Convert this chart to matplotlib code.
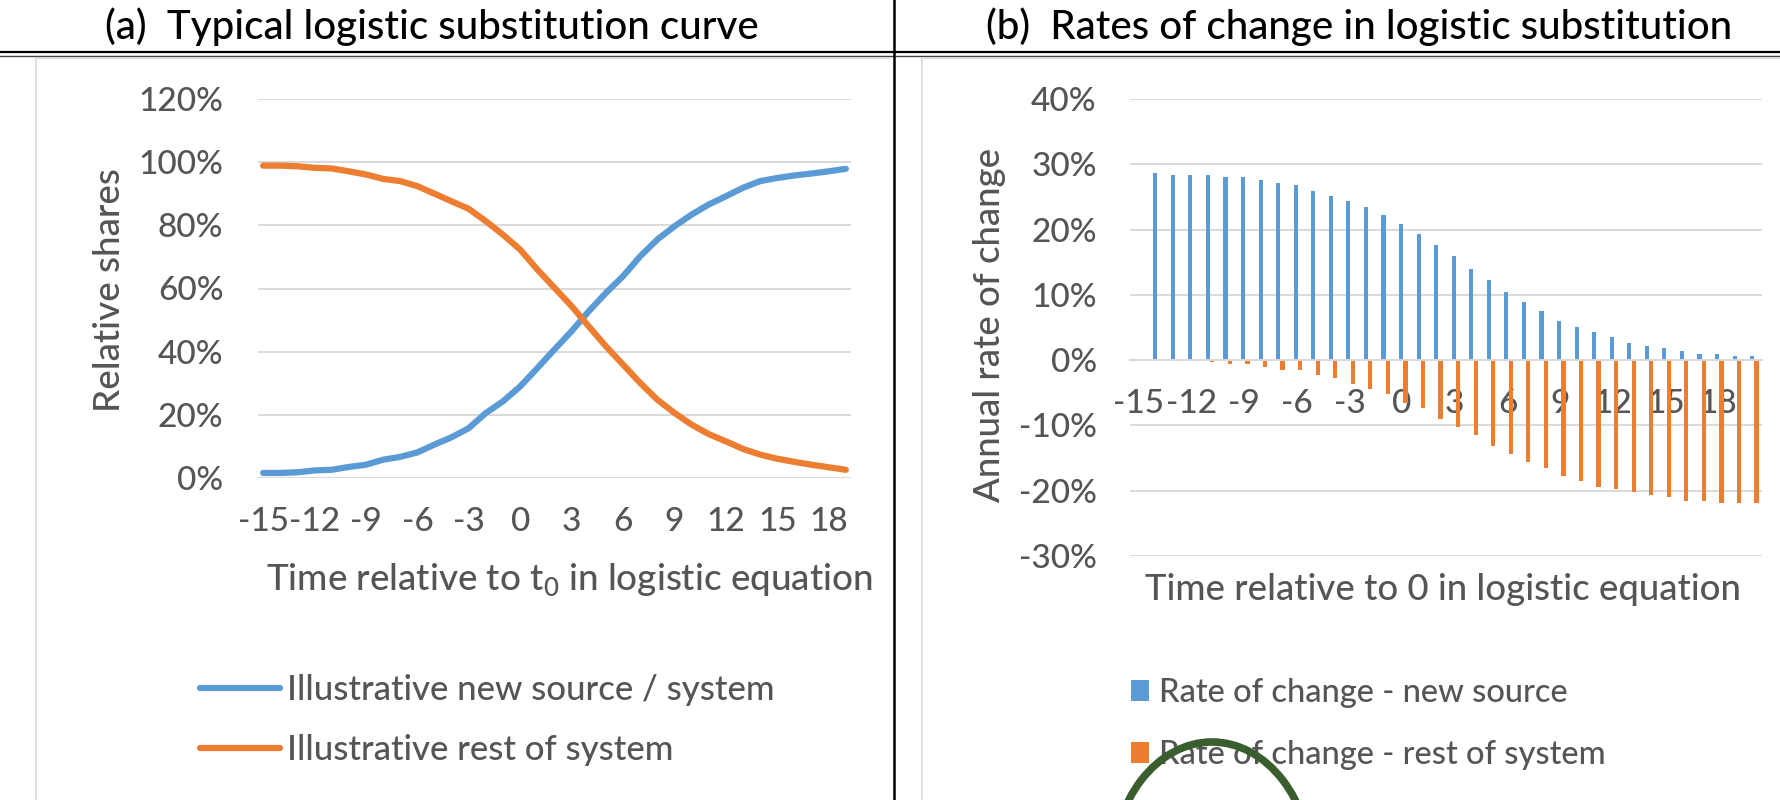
import numpy as np
import matplotlib.pyplot as plt
from matplotlib.lines import Line2D
from matplotlib.patches import Ellipse

plt.rcParams['font.family'] = ['Lato', 'DejaVu Sans']
plt.rcParams['font.weight'] = 'medium'

# panel (a): relative shares, years relative to t0
years_a = list(range(-15, 20))
new_share = [1.6, 1.6, 1.8, 2.4, 2.6, 3.5, 4.2, 5.8, 6.7, 8.1,
             10.6, 12.9, 15.8, 20.6, 24.3, 29.0, 34.8, 40.7, 46.5, 52.8,
             58.6, 63.9, 70.2, 75.5, 79.7, 83.4, 86.6, 89.2, 91.9, 94.0,
             95.0, 95.8, 96.4, 97.1, 97.9]
rest_share = [98.9, 98.9, 98.7, 98.2, 98.0, 97.1, 96.1, 94.7, 94.0, 92.4,
              90.0, 87.6, 85.2, 81.3, 77.0, 72.3, 66.0, 60.2, 54.4, 48.0,
              41.7, 35.9, 30.1, 24.8, 20.6, 16.9, 13.9, 11.6, 9.2, 7.4,
              6.1, 5.1, 4.2, 3.4, 2.6]

# panel (b): annual rates of change (categories -15..20, no value for -15)
years_b = list(range(-14, 21))
rate_new = [28.7, 28.4, 28.4, 28.4, 28.1, 28.0, 27.6, 27.2, 26.8, 25.9,
            25.1, 24.3, 23.4, 22.2, 20.9, 19.3, 17.6, 15.9, 13.9, 12.2,
            10.5, 8.9, 7.6, 6.0, 5.1, 4.3, 3.5, 2.6, 2.2, 1.8,
            1.4, 1.0, 1.0, 0.6, 0.6]
rate_rest = [-0.1, -0.2, -0.2, -0.3, -0.6, -0.6, -1.0, -1.5, -1.5, -2.3,
             -2.8, -3.6, -4.4, -5.2, -6.5, -7.3, -9.0, -10.2, -11.5, -13.1,
             -14.4, -15.6, -16.5, -17.7, -18.5, -19.4, -19.8, -20.2, -20.6, -21.0,
             -21.5, -21.5, -21.9, -21.9, -21.9]

xticks = list(range(-15, 19, 3))
yticks_a = [0, 20, 40, 60, 80, 100, 120]
yticks_b = [-30, -20, -10, 0, 10, 20, 30, 40]

blue = '#5B9BD5'
orange = '#ED7D31'
txt = '#555555'
grid = '#D9D9D9'

W, H = 1781, 800
fig = plt.figure(figsize=(W / 100, H / 100), dpi=100)


def fx(px):
    return px / W


def fy(py):
    return 1 - py / H


def style(ax):
    for s in ax.spines.values():
        s.set_visible(False)
    ax.set_axisbelow(True)
    ax.yaxis.grid(True, color=grid, lw=1.4)
    ax.tick_params(length=0, labelsize=24, labelcolor=txt)
    ax.tick_params(axis='y', pad=25)
    ax.tick_params(axis='x', pad=21)


# (a)
ax1 = fig.add_axes([fx(258), fy(478), fx(851 - 258), (478 - 99) / H])
style(ax1)
ax1.plot(years_a, new_share, color=blue, lw=4.5, solid_capstyle='round',
         label='Illustrative new source / system')
ax1.plot(years_a, rest_share, color=orange, lw=4.5, solid_capstyle='round',
         label='Illustrative rest of system')
ax1.set_xlim(-15.3, 19.3)
ax1.set_ylim(0, 120)
ax1.set_xticks(xticks)
ax1.set_xticklabels([str(v) for v in xticks])
ax1.set_yticks(yticks_a)
ax1.set_yticklabels(['%d%%' % v for v in yticks_a])
ax1.legend(loc='center left', bbox_to_anchor=(fx(200), fy(720)),
           bbox_transform=fig.transFigure, frameon=False, fontsize=25,
           handlelength=2.3, handletextpad=0.2, labelspacing=0.82,
           borderpad=0, borderaxespad=0, labelcolor=txt)

# (b)
ax2 = fig.add_axes([fx(1130), fy(556), fx(632), (556 - 99) / H])
style(ax2)
ax2.spines['bottom'].set_visible(True)
ax2.spines['bottom'].set_position(('data', 0))
ax2.spines['bottom'].set_color(grid)
ax2.spines['bottom'].set_linewidth(1.4)
xb = np.array(years_b)
ax2.bar(xb - 0.06, rate_new, width=0.24, color=blue,
        label='Rate of change - new source')
ax2.bar(xb + 0.19, rate_rest, width=0.24, color=orange,
        label='Rate of change - rest of system')
ax2.set_xlim(-15.5, 20.5)
ax2.set_ylim(-30, 40)
ax2.set_xticks(xticks)
ax2.set_xticklabels([str(v) for v in xticks])
ax2.set_yticks(yticks_b)
ax2.set_yticklabels(['%d%%' % v for v in yticks_b])
ax2.tick_params(axis='y', pad=24)
ax2.legend(loc='center left', bbox_to_anchor=(fx(1131), fy(724)),
           bbox_transform=fig.transFigure, frameon=False, fontsize=23.5,
           handlelength=0.56, handleheight=0.6, handletextpad=0.3,
           labelspacing=1.0, borderpad=0, borderaxespad=0, labelcolor=txt)

# titles and axis titles
fig.text(fx(432), fy(27), '(a)  Typical logistic substitution curve',
         ha='center', va='center', fontsize=29, color='black')
fig.text(fx(1359), fy(27), '(b)  Rates of change in logistic substitution',
         ha='center', va='center', fontsize=29, color='black')
fig.text(fx(569), fy(580), r'Time relative to t$_\mathregular{0}$ in logistic equation',
         ha='center', va='center', fontsize=26.5, color=txt)
fig.text(fx(1443), fy(590), 'Time relative to 0 in logistic equation',
         ha='center', va='center', fontsize=26.3, color=txt)
fig.text(fx(110), fy(290), 'Relative shares', rotation=90,
         ha='center', va='center', fontsize=26.5, color=txt)
fig.text(fx(990), fy(325), 'Annual rate of change', rotation=90,
         ha='center', va='center', fontsize=26.3, color=txt)

# frame lines of the page
fig.add_artist(Line2D([0, 1], [fy(52), fy(52)], transform=fig.transFigure,
                      color='black', lw=1.6))
fig.add_artist(Line2D([0, 1], [fy(56), fy(56)], transform=fig.transFigure,
                      color='#444444', lw=1.0))
fig.add_artist(Line2D([fx(894), fx(894)], [0, 1], transform=fig.transFigure,
                      color='black', lw=1.8))
for x0, x1 in [(36, 891), (922, W)]:
    fig.add_artist(Line2D([fx(x0), fx(x1)], [fy(58), fy(58)],
                          transform=fig.transFigure, color=grid, lw=1.2))
    fig.add_artist(Line2D([fx(x0), fx(x0)], [fy(58), 0],
                          transform=fig.transFigure, color=grid, lw=1.2))

# hand-drawn green circle at the bottom
fig.add_artist(Ellipse((fx(1212), fy(872)), fx(200), 260 / H,
                       transform=fig.transFigure, fill=False,
                       edgecolor='#3A5E2E', lw=5.5))

fig.savefig('out.png', dpi=100)
